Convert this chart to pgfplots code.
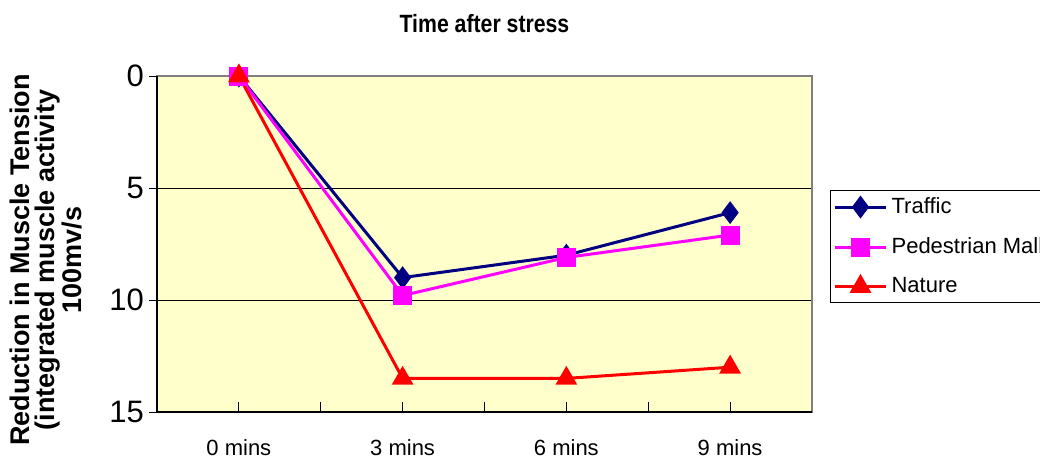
\documentclass[border=0pt]{standalone}
\usepackage{pgfplots}
\pgfplotsset{compat=1.18}
\usepackage{fontspec}
\setmainfont{Liberation Sans}
\definecolor{plotbg}{HTML}{FFFFCC}
\definecolor{traffic}{HTML}{000080}
\definecolor{ped}{HTML}{FF00FF}
\definecolor{nat}{HTML}{FF0000}
\begin{document}
\begin{tikzpicture}
\clip (-78.5pt,-25pt) rectangle (441.5pt,206pt);
\begin{axis}[
  scale only axis,
  width=327.5pt, height=168pt,
  xmin=-0.5, xmax=3.5,
  ymin=0, ymax=15, y dir=reverse,
  xtick={0,1,2,3},
  xticklabels={0 mins,3 mins,6 mins,9 mins},
  minor xtick={-0.5,0.5,1.5,2.5,3.5},
  ytick={0,5,10,15},
  xtick pos=left, ytick pos=left,
  tick align=inside,
  major tick length=5pt, minor tick length=5pt,
  y tick style={xshift=-4pt, black, line width=0.5pt},
  x tick style={black, line width=0.5pt},
  minor x tick style={black, line width=0.5pt},
  ymajorgrids,
  grid style={black, line width=0.5pt},
  axis background/.style={fill=plotbg},
  axis line style={draw=gray, line width=1.1pt},
  tick label style={font=\fontsize{11}{12}\selectfont},
  yticklabel style={font=\fontsize{15.5}{17}\selectfont, xshift=-3pt},
  xticklabel style={yshift=-10pt},
  /pgf/number format/assume math mode=true,
  title={\scalebox{0.85}[1]{Time after stress}},
  title style={font=\bfseries\fontsize{12.5}{13}\selectfont, at={(axis description cs:0.5,1.119)}, anchor=center},
  ylabel={Reduction in Muscle Tension\\(integrated muscle activity\\100mv/s},
  ylabel style={font=\bfseries\fontsize{13.5}{12.5}\selectfont, align=center, at={(axis description cs:-0.1695,0.4524)}, anchor=center},
  legend style={at={(1,0)}, anchor=south west, xshift=9pt, yshift=54.5pt,
    draw=black, fill=white, font=\fontsize{11}{12}\selectfont,
    row sep=6.5pt, inner sep=1.5pt},
  legend cell align=left,
  legend image code/.code={
    \draw[#1, mark repeat=2, mark phase=2] plot coordinates {(0cm,0cm) (0.45cm,0cm) (0.9cm,0cm)};},
  after end axis/.code={
    \draw[black, line width=0.6pt] (rel axis cs:0,1) -- (rel axis cs:0,0) -- (rel axis cs:1,0);},
]
\addplot[traffic, line width=1.5pt, mark=diamond*, mark size=4.5pt, mark options={solid, fill=traffic}]
  coordinates {(0,0) (1,9.0) (2,8.0) (3,6.1)};
\addlegendentry{Traffic}
\addplot[ped, line width=1.5pt, mark=square*, mark size=4pt, mark options={solid, fill=ped}]
  coordinates {(0,0) (1,9.8) (2,8.1) (3,7.1)};
\addlegendentry{Pedestrian Mall}
\addplot[nat, line width=1.5pt, mark=triangle*, mark size=4.8pt, mark options={solid, fill=nat}]
  coordinates {(0,0) (1,13.5) (2,13.5) (3,13.0)};
\addlegendentry{Nature}
\end{axis}
\end{tikzpicture}
\end{document}
